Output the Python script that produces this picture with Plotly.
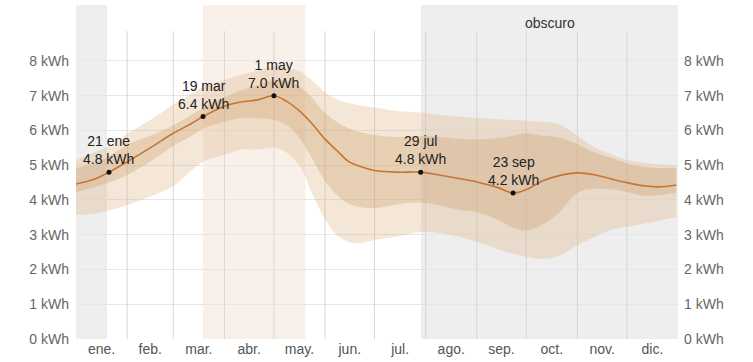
import plotly.graph_objects as go

# ---- data (day of year, 0 = 1 Jan) ----
days = [0, 10, 20, 31, 45, 59, 70, 77, 90, 100, 110, 120, 128, 136, 143, 151, 158, 165, 172, 181,
        195, 209, 220, 232, 243, 255, 265, 273, 283, 293, 304, 315, 325, 334, 345, 355, 364]
p50 = [4.46, 4.58, 4.8, 5.1, 5.5, 5.92, 6.2, 6.4, 6.7, 6.82, 6.88, 7.0, 6.83, 6.54, 6.2, 5.75, 5.43, 5.12, 4.97, 4.85,
       4.8, 4.8, 4.72, 4.62, 4.52, 4.37, 4.2, 4.3, 4.55, 4.7, 4.78, 4.72, 4.6, 4.5, 4.4, 4.38, 4.43]
p75 = [4.92, 5.05, 5.25, 5.6, 5.85, 6.15, 6.45, 6.65, 6.95, 7.15, 7.3, 7.45, 7.42, 7.25, 6.95, 6.5, 6.25, 6.07, 5.95, 5.87,
       5.81, 5.84, 5.82, 5.76, 5.74, 5.78, 5.85, 5.92, 5.85, 5.8, 5.6, 5.35, 5.2, 5.06, 4.95, 4.92, 4.92]
p25 = [4.23, 4.35, 4.5, 4.72, 5.1, 5.55, 5.85, 6.05, 6.25, 6.35, 6.35, 6.3, 6.15, 5.75, 5.2, 4.55, 4.15, 3.9, 3.8, 3.77,
       3.88, 3.93, 3.85, 3.72, 3.65, 3.45, 3.2, 3.12, 3.3, 3.65, 4.2, 4.32, 4.3, 4.23, 4.12, 4.15, 4.2]
p90 = [5.15, 5.35, 5.55, 5.9, 6.3, 6.75, 7.05, 7.25, 7.45, 7.6, 7.72, 7.83, 7.8, 7.7, 7.45, 7.1, 6.9, 6.8, 6.72, 6.66,
       6.56, 6.52, 6.45, 6.4, 6.36, 6.33, 6.3, 6.28, 6.25, 6.18, 5.85, 5.5, 5.3, 5.15, 5.07, 5.02, 5.0]
p10 = [3.57, 3.6, 3.7, 3.85, 4.1, 4.4, 4.85, 5.1, 5.3, 5.45, 5.45, 5.5, 5.35, 4.95, 4.2, 3.45, 3.0, 2.8, 2.76, 2.85,
       2.95, 3.08, 3.05, 2.95, 2.8, 2.6, 2.45, 2.37, 2.3, 2.4, 2.7, 2.95, 3.15, 3.22, 3.32, 3.42, 3.5]

month_starts = [31, 59, 90, 120, 151, 181, 212, 243, 273, 304, 334]
month_mids = [15.5, 45, 74.5, 105, 135.5, 166, 196.5, 227.5, 258, 288.5, 319, 349.5]
month_labels = ["ene.", "feb.", "mar.", "abr.", "may.", "jun.", "jul.", "ago.", "sep.", "oct.", "nov.", "dic."]

dark_periods = [(0, 18.8), (209.2, 365)]
dark_label = "obscuro"
bright_period = (77, 139)

hl_days = [20, 77, 120, 209, 265]
hl_vals = [4.8, 6.4, 7.0, 4.8, 4.2]
hl_dates = ["21 ene", "19 mar", "1 may", "29 jul", "23 sep"]

y_ticks = [0, 1, 2, 3, 4, 5, 6, 7, 8]
y_labels = [f"{v} kWh" for v in y_ticks]

FONT = "Arial, Liberation Sans, sans-serif"
outer_fill = "rgba(222,180,130,0.32)"
inner_fill = "rgba(205,155,105,0.32)"
line_col = "#c57535"

fig = go.Figure()
fig.add_trace(go.Scatter(x=days, y=p10, mode="lines", line=dict(width=0, shape="spline"),
                         hoverinfo="skip", showlegend=False))
fig.add_trace(go.Scatter(x=days, y=p90, mode="lines", line=dict(width=0, shape="spline"),
                         fill="tonexty", fillcolor=outer_fill, hoverinfo="skip", showlegend=False))
fig.add_trace(go.Scatter(x=days, y=p25, mode="lines", line=dict(width=0, shape="spline"),
                         hoverinfo="skip", showlegend=False))
fig.add_trace(go.Scatter(x=days, y=p75, mode="lines", line=dict(width=0, shape="spline"),
                         fill="tonexty", fillcolor=inner_fill, hoverinfo="skip", showlegend=False))
fig.add_trace(go.Scatter(x=days, y=p50, mode="lines", line=dict(width=1.6, color=line_col, shape="spline"),
                         showlegend=False))
fig.add_trace(go.Scatter(x=hl_days, y=hl_vals, mode="markers", marker=dict(size=5, color="#111"),
                         showlegend=False))
# invisible trace on right axis
fig.add_trace(go.Scatter(x=[0], y=[0], yaxis="y2", mode="markers", marker=dict(opacity=0),
                         hoverinfo="skip", showlegend=False))

shapes = []
for a, b in dark_periods:
    shapes.append(dict(type="rect", xref="x", yref="paper", x0=a, x1=b, y0=0, y1=1,
                       fillcolor="#eeeeee", line=dict(width=0), layer="below"))
shapes.append(dict(type="rect", xref="x", yref="paper", x0=bright_period[0], x1=bright_period[1], y0=0, y1=1,
                   fillcolor="#faf0ea", line=dict(width=0), layer="below"))
for m in month_starts:
    shapes.append(dict(type="line", xref="x", yref="y", x0=m, x1=m, y0=0, y1=8.86,
                       line=dict(color="#d6d6d6", width=1), layer="between"))

annotations = []
for d, v, t in zip(hl_days, hl_vals, hl_dates):
    annotations.append(dict(x=d, y=v, xref="x", yref="y", text=f"{t}<br>{v:.1f} kWh", showarrow=False,
                            yanchor="bottom", yshift=3, font=dict(size=14, color="#222", family=FONT)))
annotations.append(dict(x=(dark_periods[1][0] + dark_periods[1][1]) / 2, y=9.1, xref="x", yref="y",
                        text=dark_label, showarrow=False, font=dict(size=14, color="#333", family=FONT)))

fig.update_layout(
    width=753, height=362,
    margin=dict(l=76, r=75, t=5, b=23),
    plot_bgcolor="white", paper_bgcolor="white",
    font=dict(family=FONT, size=14, color="#666"),
    shapes=shapes, annotations=annotations,
    xaxis=dict(range=[0, 365], showgrid=False, zeroline=False, tickmode="array",
               tickvals=month_mids, ticktext=month_labels, ticks="", showline=False,
               tickfont=dict(size=14, color="#555"), fixedrange=True),
    yaxis=dict(range=[0, 9.61], tickmode="array", tickvals=y_ticks, ticktext=y_labels,
               showgrid=True, gridcolor="#e6e6e6", gridwidth=1, zeroline=False, ticks="",
               ticklabelstandoff=6, tickfont=dict(size=14, color="#666")),
    yaxis2=dict(range=[0, 9.61], overlaying="y", side="right", tickmode="array", tickvals=y_ticks,
                ticktext=y_labels, showgrid=False, zeroline=False, ticks="",
                ticklabelstandoff=5, tickfont=dict(size=14, color="#666")),
    showlegend=False,
)

fig.write_html("out.html", config={"displayModeBar": False},
               post_script="document.body.style.margin='0';document.body.style.padding='0';")
